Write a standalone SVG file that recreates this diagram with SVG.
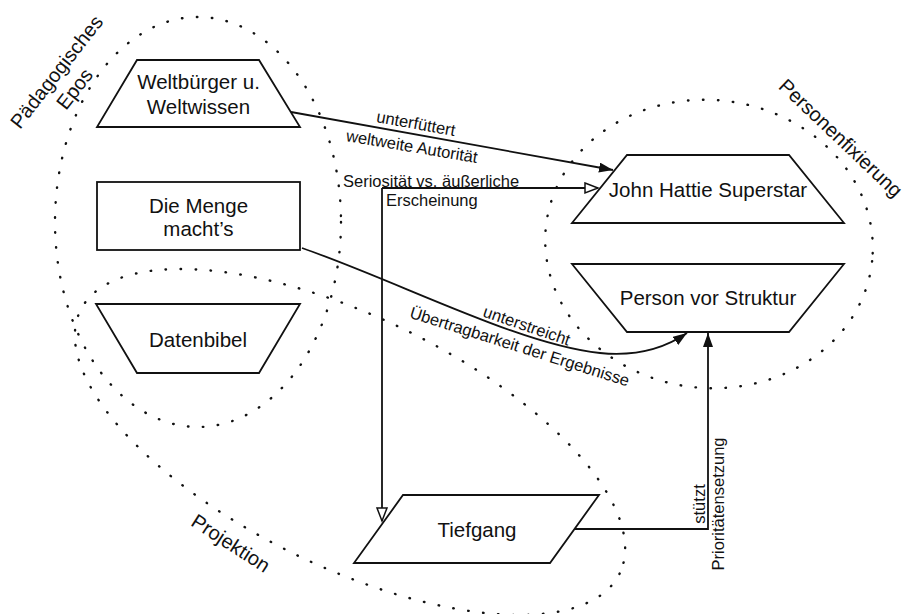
<svg xmlns="http://www.w3.org/2000/svg" width="912" height="614" viewBox="0 0 912 614">
<defs>
<style>
.bg{fill:#ffffff}
.grp{fill:none;stroke:#111;stroke-width:2.4;stroke-linecap:round;stroke-dasharray:0.5 14.5}
.node{fill:#ffffff;stroke:#111;stroke-width:1.8;stroke-linejoin:miter}
.edge{fill:none;stroke:#111;stroke-width:1.8}
.nl{font-family:"Liberation Sans",Arial,sans-serif;font-size:20.5px;fill:#111;text-anchor:middle}
.gl{font-family:"Liberation Sans",Arial,sans-serif;font-size:20px;fill:#111;text-anchor:middle}
.el{font-family:"Liberation Sans",Arial,sans-serif;font-size:16.5px;fill:#111}
.mid{text-anchor:middle}
</style>
<marker id="arrF" markerUnits="userSpaceOnUse" markerWidth="16" markerHeight="12" refX="14" refY="5" orient="auto">
<path d="M0,0 L14,5 L0,10 Z" fill="#111"/>
</marker>
<marker id="arrO" markerUnits="userSpaceOnUse" markerWidth="18" markerHeight="14" refX="14" refY="6" orient="auto">
<path d="M1,1 L14,6 L1,11 Z" fill="#fff" stroke="#111" stroke-width="1.5"/>
</marker>
</defs>
<rect class="bg" x="0" y="0" width="912" height="614"/>

<g id="groups">
<ellipse class="grp" cx="198" cy="222" rx="143" ry="205"/>
<ellipse class="grp" cx="350" cy="442" rx="300" ry="125" transform="rotate(26 350 442)"/>
<ellipse class="grp" cx="709" cy="244" rx="164" ry="144" transform="rotate(6 709 244)"/>
<text class="gl" transform="translate(62,76) rotate(-52)">Pädagogisches</text>
<text class="gl" transform="translate(80,93) rotate(-52)">Epos</text>
<text class="gl" transform="translate(836,143) rotate(43.5)">Personenfixierung</text>
<text class="gl" transform="translate(227,549) rotate(33)">Projektion</text>
</g>

<g id="connectors">
<path class="edge" d="M291,112 L613,170" marker-end="url(#arrF)"/>
<text class="el mid" transform="translate(415,129) rotate(10.2)">unterfüttert</text>
<text class="el mid" transform="translate(411,152) rotate(9.5)">weltweite Autorität</text>

<path class="edge" d="M382,188 L598,188" marker-end="url(#arrO)"/>
<path class="edge" d="M382,188 L382,521" marker-end="url(#arrO)"/>
<text class="el" x="343" y="187">Seriosität vs. äußerliche</text>
<text class="el" x="386" y="206">Erscheinung</text>

<path class="edge" d="M302,248 C400,282 520,345 600,353 C640,357 668,346 687,333" marker-end="url(#arrF)"/>
<text class="el mid" transform="translate(525,331) rotate(19)">unterstreicht</text>
<text class="el mid" transform="translate(518,352) rotate(17.5)">Übertragbarkeit der Ergebnisse</text>

<path class="edge" d="M575,529 L708,529 L708,333" marker-end="url(#arrF)"/>
<text class="el mid" transform="translate(705,504) rotate(-90)">stützt</text>
<text class="el mid" transform="translate(724,504) rotate(-90)">Prioritätensetzung</text>
</g>

<g id="weltbuerger">
<polygon class="node" points="137,60 259,60 300,127 97,127"/>
<text class="nl" x="198.5" y="89">Weltbürger u.</text>
<text class="nl" x="198.5" y="114">Weltwissen</text>
</g>

<g id="menge">
<rect class="node" x="97" y="182" width="203" height="68"/>
<text class="nl" x="198.5" y="212.5">Die Menge</text>
<text class="nl" x="198.5" y="236">macht’s</text>
</g>

<g id="datenbibel">
<polygon class="node" points="96,304 300,304 259,373 137,373"/>
<text class="nl" x="198" y="347">Datenbibel</text>
</g>

<g id="hattie">
<polygon class="node" points="627,155 789,155 844,223 572,223"/>
<text class="nl" x="708" y="197">John Hattie Superstar</text>
</g>

<g id="person">
<polygon class="node" points="572,264 844,264 789,332 627,332"/>
<text class="nl" x="708" y="305">Person vor Struktur</text>
</g>

<g id="tiefgang">
<polygon class="node" points="403,495 599,495 550,563 354,563"/>
<text class="nl" x="477" y="537">Tiefgang</text>
</g>
</svg>
